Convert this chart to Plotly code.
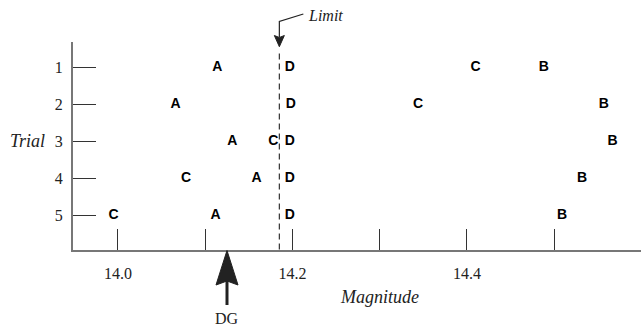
import plotly.graph_objects as go

# Trial numbers and the magnitude measured by each observer (A-D) per trial
trials = [1, 2, 3, 4, 5]
obs_A = [14.114, 14.066, 14.131, 14.159, 14.112]
obs_B = [14.488, 14.557, 14.567, 14.532, 14.509]
obs_C = [14.410, 14.344, 14.178, 14.078, 13.995]
obs_D = [14.197, 14.198, 14.197, 14.197, 14.197]

x_tick_vals = [14.0, 14.1, 14.2, 14.3, 14.4, 14.5]
x_tick_text = ["14.0", "", "14.2", "", "14.4", ""]
y_tick_text = ["1", "2", "3", "4", "5"]

limit_value = 14.185   # dashed detection limit
dg_value = 14.125      # reference magnitude marked by the DG arrow

# Page geometry (pixels)
W, H = 642, 328
PL, PR, PT, PB = 73, 641, 42, 249.5
X_RANGE = [13.9485, 14.5995]
Y_RANGE = [5.932, 0.324]
PX_PER_UNIT = (PR - PL) / (X_RANGE[1] - X_RANGE[0])


def yp(py):
    """pixel row -> paper y"""
    return 1 - py / H


def xp(px):
    """pixel column -> paper x"""
    return px / W


def dx(px):
    """pixel width -> data units on the x axis"""
    return px / PX_PER_UNIT


serif = "Liberation Serif"
sans = "Liberation Sans"

fig = go.Figure()
for name, vals in [("A", obs_A), ("B", obs_B), ("C", obs_C), ("D", obs_D)]:
    fig.add_trace(go.Scatter(
        x=vals, y=trials, mode="text", text=[name] * len(vals),
        textposition="middle center",
        textfont=dict(family=sans, size=14, color="black", weight="bold"),
        showlegend=False, hoverinfo="x+y+text",
    ))

shapes = [
    # dashed limit line
    dict(type="line", xref="x", yref="paper", x0=limit_value, x1=limit_value,
         y0=yp(PB), y1=yp(51), line=dict(color="#333", width=1.2, dash="6px,4px")),
    # bent leader from the "Limit" label down to the arrow head
    dict(type="path", xref="x", yref="paper",
         path=(f"M{limit_value + dx(24)},{yp(14)} L{limit_value},{yp(21.5)} "
               f"L{limit_value},{yp(37)}"),
         line=dict(color="#222", width=1.2)),
    dict(type="path", xref="x", yref="paper",
         path=(f"M{limit_value},{yp(46.7)} L{limit_value - dx(5)},{yp(35.5)} "
               f"L{limit_value},{yp(37.5)} L{limit_value + dx(5)},{yp(35.5)} Z"),
         fillcolor="#222", line=dict(color="#222", width=1)),
    # DG arrow: shaft and head
    dict(type="line", xref="x", yref="paper", x0=dg_value, x1=dg_value,
         y0=yp(305), y1=yp(278), line=dict(color="#222", width=3)),
    dict(type="path", xref="x", yref="paper",
         path=(f"M{dg_value},{yp(250.5)} L{dg_value - dx(11)},{yp(285)} "
               f"L{dg_value},{yp(281)} L{dg_value + dx(11)},{yp(285)} Z"),
         fillcolor="#222", line=dict(color="#222", width=1)),
]

annotations = [
    dict(text="<i>Limit</i>", xref="paper", yref="paper", x=xp(306), y=yp(15),
         xanchor="left", yanchor="middle", showarrow=False,
         font=dict(family=serif, size=16, color="#222")),
    dict(text="<i>Magnitude</i>", xref="paper", yref="paper", x=xp(379), y=yp(297),
         xanchor="center", yanchor="middle", showarrow=False,
         font=dict(family=serif, size=18, color="#222")),
    dict(text="<i>Trial</i>", xref="paper", yref="paper", x=xp(27), y=yp(141),
         xanchor="center", yanchor="middle", showarrow=False,
         font=dict(family=serif, size=18, color="#222")),
    dict(text="DG", xref="x", yref="paper", x=dg_value, y=yp(318),
         xanchor="center", yanchor="middle", showarrow=False,
         font=dict(family=serif, size=16, color="#222")),
]

fig.update_layout(
    width=W, height=H,
    margin=dict(l=0, r=0, t=0, b=0),
    paper_bgcolor="white", plot_bgcolor="white",
    shapes=shapes, annotations=annotations,
    xaxis=dict(
        domain=[xp(PL), xp(PR)], range=X_RANGE,
        showline=True, linecolor="#777", linewidth=2,
        ticks="inside", ticklen=21, tickwidth=1, tickcolor="#333",
        tickvals=x_tick_vals, ticktext=x_tick_text,
        tickfont=dict(family=serif, size=16, color="#222"),
        ticklabelstandoff=8,
        showgrid=False, zeroline=False, fixedrange=True,
    ),
    yaxis=dict(
        domain=[yp(PB), yp(PT)], range=Y_RANGE,
        showline=True, linecolor="#777", linewidth=2,
        ticks="inside", ticklen=23, tickwidth=1, tickcolor="#333",
        tickvals=trials, ticktext=y_tick_text,
        tickfont=dict(family=serif, size=16, color="#222"),
        ticklabelstandoff=5,
        showgrid=False, zeroline=False, fixedrange=True,
    ),
)

fig.write_html("out.html")
